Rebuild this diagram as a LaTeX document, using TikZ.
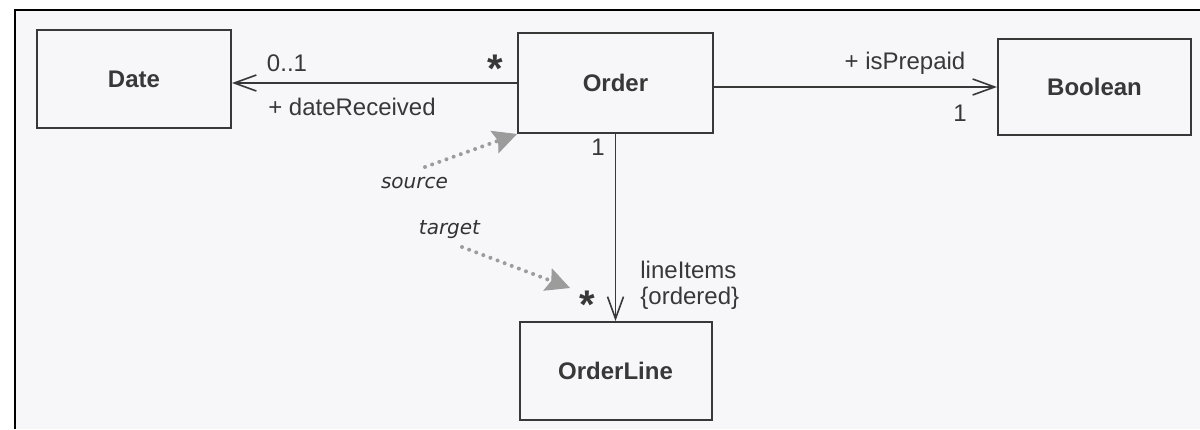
\documentclass[tikz,border=0pt]{standalone}
\usepackage{fontspec}
\setmainfont{Liberation Sans}
\newfontfamily\notefont{DejaVu Sans}
\usetikzlibrary{arrows.meta}
\definecolor{paper}{HTML}{F7F7FA}
\definecolor{ink}{HTML}{383838}
\definecolor{dotgray}{HTML}{9C9C9C}
\tikzset{
  cls/.style={draw=ink, line width=1pt, fill=paper, text=ink, inner sep=0pt,
    font=\bfseries\fontsize{12}{14}\selectfont},
  assoc/.style={draw=ink, line width=0.8pt,
    -{Straight Barb[length=11pt,width=8pt,line width=0.8pt]}},
  lbl/.style={text=ink, inner sep=0pt, font=\fontsize{12}{13}\selectfont},
  mult/.style={text=ink, inner sep=0pt, font=\bfseries\fontsize{20}{20}\selectfont},
  note/.style={text=ink!90!black, inner sep=0pt, font=\notefont\itshape\fontsize{10}{12}\selectfont},
  hint/.style={draw=dotgray, line width=2pt, line cap=round, dash pattern=on 0pt off 3.8pt,
    -{Stealth[length=12pt,width=12pt,inset=2pt,fill=dotgray,line width=0.5pt]}},
}
\begin{document}
\begin{tikzpicture}[x=0.5pt,y=-0.5pt]
  % page and frame
  \useasboundingbox (0,0) rectangle (1200,429);
  \fill[white] (0,0) rectangle (1200,429);
  \fill[paper] (15,10) rectangle (1200,429);
  \draw[black, line width=1.2pt] (15,429) -- (15,10) -- (1200,10);

  % classes
  \node[cls, minimum width=97pt, minimum height=49pt] (date) at (134,79) {Date};
  \node[cls, minimum width=97.5pt, minimum height=50pt] (order) at (615.5,83) {Order};
  \node[cls, minimum width=96.5pt, minimum height=48pt] (bool) at (1094.5,87) {Boolean};
  \node[cls, minimum width=96pt, minimum height=49pt] (line) at (615.5,371) {OrderLine};

  % associations
  \draw[assoc] (order.west) -- (order.west -| date.east);
  \draw[assoc] (bool.west -| order.east) -- (bool.west);
  \draw[assoc] (order.south) -- (line.north);

  % association end labels
  \node[lbl] (m01) at (287,63) {0..1};
  \node[mult, anchor=base] (mstar1) at (495,82) {*};
  \node[lbl] (rdate) at (352,107) {+ dateReceived};
  \node[lbl] (rpre) at (905,63) {+ isPrepaid};
  \node[lbl] (m1b) at (960,113) {1};
  \node[lbl] (m1o) at (598,147) {1};
  \node[lbl, anchor=west, align=left] (ritems) at (640,285) {lineItems\\\{ordered\}};
  \node[mult, anchor=base] (mstar2) at (587,318) {*};

  % notes pointing at the association ends
  \node[note, anchor=base] (src) at (414.5,188) {source};
  \node[note, anchor=base] (tgt) at (449.5,234) {target};
  \coordinate (srcstart) at (425,167);
  \coordinate (tgtstart) at (462,247);
  \coordinate (tgtend) at (570,288);
  \draw[hint] (srcstart) -- (order.south west);
  \draw[hint] (tgtstart) -- (tgtend);
\end{tikzpicture}
\end{document}
